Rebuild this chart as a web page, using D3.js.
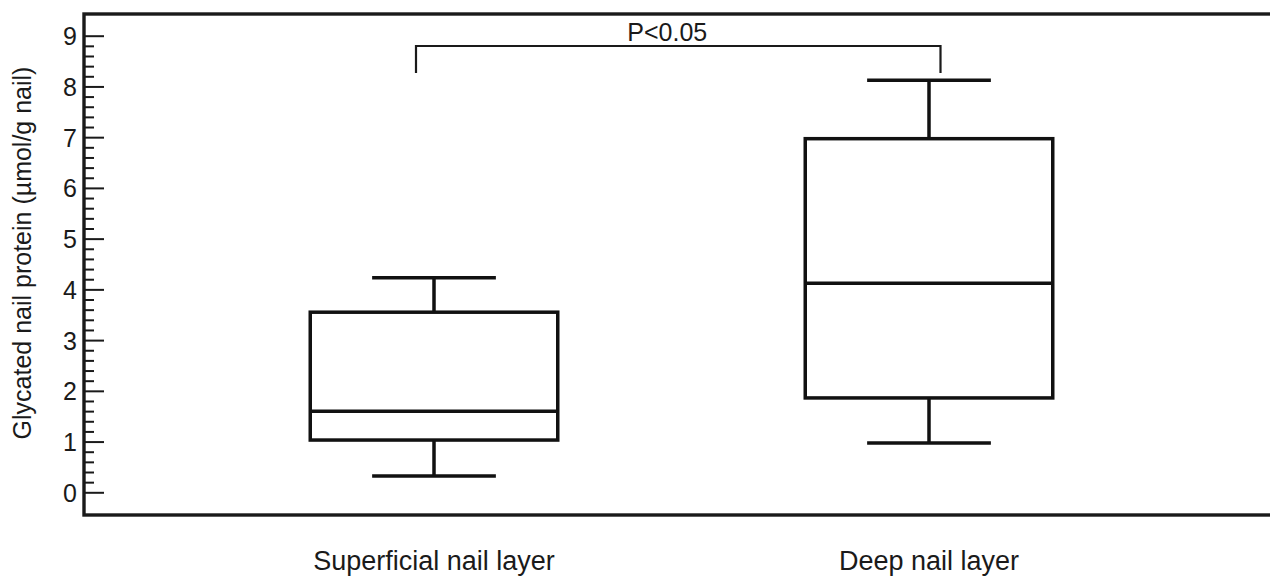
<!DOCTYPE html>
<html>
<head>
<meta charset="utf-8">
<script src="https://cdn.jsdelivr.net/npm/d3@7"></script>
<style>
  html, body { margin: 0; padding: 0; background: #fff; }
  svg { display: block; font-family: "Liberation Sans", Arial, sans-serif; }
</style>
</head>
<body>
<svg id="chart" width="1270" height="578"></svg>
<script>
// ---- data ----
const categories = ["Superficial nail layer", "Deep nail layer"];
const whiskerLow  = [0.32, 0.97];
const q1          = [1.03, 1.86];
const median      = [1.60, 4.12];
const q3          = [3.55, 6.97];
const whiskerHigh = [4.23, 8.12];
const yTicks = [0, 1, 2, 3, 4, 5, 6, 7, 8, 9];
const yTitle = "Glycated nail protein (µmol/g nail)";
const sigLabel = "P<0.05";

// ---- layout ----
const svg = d3.select("#chart");
const frame = { left: 84, top: 14, right: 1290, bottom: 515 };

const x = d3.scaleBand().domain(categories).range([186.5, 1176.5]).padding(0);
const y = d3.scaleLinear().domain([0, 9]).range([492.3, 35.7]);
const bw = x.bandwidth();
const cx = c => x(c) + bw / 2;

// frame (right side falls outside the picture)
svg.append("rect")
  .attr("x", frame.left).attr("y", frame.top)
  .attr("width", frame.right - frame.left).attr("height", frame.bottom - frame.top)
  .attr("fill", "none").attr("stroke", "#1a1a1a").attr("stroke-width", 3.4);

// minor ticks
const minor = d3.range(0, 9.01, 0.2).filter(v => Math.abs(v - Math.round(v)) > 1e-6);
const axisMinor = d3.axisRight(y).tickValues(minor).tickSize(10).tickFormat("");
const gMinor = svg.append("g").attr("transform", `translate(${frame.left},0)`).call(axisMinor);
gMinor.select(".domain").remove();
gMinor.selectAll("line").attr("stroke", "#1a1a1a").attr("stroke-width", 2);

// major ticks
const axisMajor = d3.axisRight(y).tickValues(yTicks).tickSize(20).tickFormat(d3.format("d"));
const gMajor = svg.append("g").attr("transform", `translate(${frame.left},0)`).call(axisMajor);
gMajor.select(".domain").remove();
gMajor.selectAll("line").attr("stroke", "#1a1a1a").attr("stroke-width", 2);
gMajor.selectAll("text")
  .attr("x", -7).attr("dy", "0.36em")
  .attr("text-anchor", "end")
  .attr("font-size", 25).attr("fill", "#1a1a1a")
  .style("font-family", "'Liberation Sans', Arial, sans-serif");

// y title
svg.append("text")
  .attr("transform", `translate(31,253) rotate(-90)`)
  .attr("text-anchor", "middle")
  .attr("font-size", 25).attr("fill", "#1a1a1a")
  .text(yTitle);

// boxes
const lw = 3.5;
const g = svg.append("g").attr("stroke", "#111").attr("stroke-width", lw).attr("fill", "none");
categories.forEach((c, i) => {
  const xc = cx(c);
  const half = bw * 0.25;
  const cap = bw * 0.125;
  // whiskers
  g.append("line").attr("x1", xc).attr("x2", xc).attr("y1", y(whiskerHigh[i])).attr("y2", y(q3[i]));
  g.append("line").attr("x1", xc).attr("x2", xc).attr("y1", y(q1[i])).attr("y2", y(whiskerLow[i]));
  g.append("line").attr("x1", xc - cap).attr("x2", xc + cap).attr("y1", y(whiskerHigh[i])).attr("y2", y(whiskerHigh[i]));
  g.append("line").attr("x1", xc - cap).attr("x2", xc + cap).attr("y1", y(whiskerLow[i])).attr("y2", y(whiskerLow[i]));
  // box
  g.append("rect").attr("x", xc - half).attr("width", 2 * half)
    .attr("y", y(q3[i])).attr("height", y(q1[i]) - y(q3[i]))
    .attr("fill", "#fff");
  g.append("line").attr("x1", xc - half).attr("x2", xc + half).attr("y1", y(median[i])).attr("y2", y(median[i]));
});

// category labels
svg.selectAll(".cat").data(categories).enter().append("text")
  .attr("class", "cat")
  .attr("x", d => cx(d)).attr("y", 570)
  .attr("text-anchor", "middle")
  .attr("font-size", 27).attr("fill", "#1a1a1a")
  .text(d => d);

// significance bracket
const bx1 = cx(categories[0]) - 18, bx2 = cx(categories[1]) + 11.5;
const bTop = 46, bBot = 73;
svg.append("path")
  .attr("d", `M${bx1},${bBot} V${bTop} H${bx2} V${bBot}`)
  .attr("fill", "none").attr("stroke", "#1a1a1a").attr("stroke-width", 2.2);
svg.append("text")
  .attr("x", (bx1 + bx2) / 2 - 11).attr("y", 41)
  .attr("text-anchor", "middle")
  .attr("font-size", 25).attr("fill", "#1a1a1a")
  .text(sigLabel);
</script>
</body>
</html>
